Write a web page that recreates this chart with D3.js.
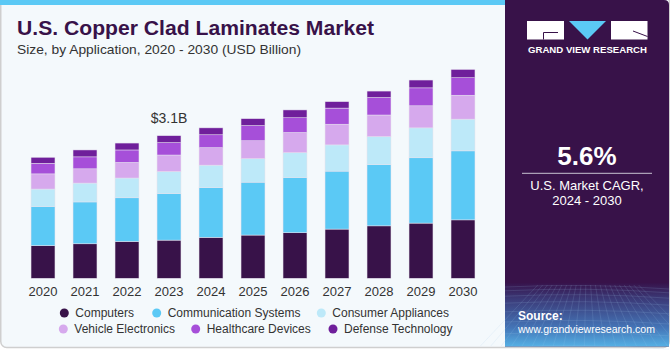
<!DOCTYPE html>
<html>
<head>
<meta charset="utf-8">
<script src="https://cdn.jsdelivr.net/npm/d3@7"></script>
<style>
  body { margin: 0; background: #ffffff; }
  svg { display: block; font-family: "Liberation Sans", Arial, sans-serif; }
</style>
</head>
<body>
<div id="okvir"></div>
<script>
// data (USD billion)
var years = ["2020", "2021", "2022", "2023", "2024", "2025", "2026", "2027", "2028", "2029", "2030"];
var segments = ["Computers", "Communication Systems", "Consumer Appliances", "Vehicle Electronics", "Healthcare Devices", "Defense Technology"];
var computers     = [0.71, 0.75, 0.80, 0.83, 0.89, 0.94, 0.99, 1.07, 1.14, 1.20, 1.27];
var communication = [0.85, 0.91, 0.95, 1.01, 1.08, 1.15, 1.20, 1.26, 1.33, 1.42, 1.50];
var consumer      = [0.38, 0.41, 0.43, 0.48, 0.49, 0.51, 0.54, 0.57, 0.61, 0.65, 0.69];
var vehicle       = [0.33, 0.31, 0.34, 0.36, 0.38, 0.39, 0.44, 0.45, 0.47, 0.48, 0.52];
var healthcare    = [0.23, 0.26, 0.27, 0.27, 0.28, 0.33, 0.32, 0.35, 0.38, 0.39, 0.38];
var defense       = [0.13, 0.15, 0.15, 0.15, 0.15, 0.15, 0.17, 0.14, 0.14, 0.17, 0.18];
var colors = ["#381249", "#5bc9f5", "#bde9f9", "#d6a9ed", "#a64fd9", "#6f1f9b"];
var labelYear = "2023";
var labelText = "$3.1B";

function crtaj() {
    var width = 670, height = 350;

    var svg = d3.select("#okvir").append("svg")
        .attr("width", width)
        .attr("height", height);

    var defs = svg.append("defs");
    var grad = defs.append("linearGradient")
        .attr("id", "grid-bg").attr("x1", 0).attr("y1", 0).attr("x2", 0).attr("y2", 1);
    grad.append("stop").attr("offset", "0%").attr("stop-color", "#37134b");
    grad.append("stop").attr("offset", "25%").attr("stop-color", "#3b3a78");
    grad.append("stop").attr("offset", "70%").attr("stop-color", "#4474b6");
    grad.append("stop").attr("offset", "100%").attr("stop-color", "#55b0e4");

    // card background and border
    svg.append("rect")
        .attr("x", 0.75).attr("y", -10)
        .attr("width", width - 1.5).attr("height", 357.5)
        .attr("rx", 6)
        .attr("fill", "#f4f9fc")
        .attr("stroke", "#cfcfcf")
        .attr("stroke-width", 1.5);

    // blue strip on top
    svg.append("rect")
        .attr("x", 0).attr("y", 0)
        .attr("width", 506).attr("height", 5)
        .attr("fill", "#5bc9f5");

    // right panel
    var panel = svg.append("g");
    panel.append("path")
        .attr("d", "M505,0 H664 Q669,0 669,5 V346.5 H505 Z")
        .attr("fill", "#381249");
    panel.append("rect")
        .attr("x", 505).attr("y", 283)
        .attr("width", 164).attr("height", 63.5)
        .attr("fill", "url(#grid-bg)");

    // faint grid in the lower panel
    var gridG = panel.append("g")
        .attr("stroke", "#9fc8ee")
        .attr("stroke-opacity", 0.25)
        .attr("stroke-width", 0.6)
        .attr("fill", "none");
    d3.range(0, 9).forEach(function (i) {
        var yy = 287 + i * i * 0.8 + i * 3;
        gridG.append("path").attr("d", "M505," + yy + " Q587," + (yy - 4) + " 669," + (yy + 2));
    });
    d3.range(0, 22).forEach(function (i) {
        var xx = 505 + i * 8;
        gridG.append("path").attr("d", "M" + (587 + (xx - 587) * 0.6) + ",285 L" + (587 + (xx - 587) * 1.3) + ",346");
    });

    // logo
    var logo = panel.append("g");
    logo.append("rect").attr("x", 527).attr("y", 21).attr("width", 37).attr("height", 18.5).attr("fill", "#ffffff");
    logo.append("path").attr("d", "M558,32.5 H543.5 V39.5").attr("stroke", "#381249").attr("stroke-width", 1).attr("fill", "none");
    logo.append("path").attr("d", "M569,21 H606 L587.5,39.5 Z").attr("fill", "#5bc9f5");
    logo.append("rect").attr("x", 611).attr("y", 21).attr("width", 36.5).attr("height", 18.5).attr("fill", "#ffffff");
    logo.append("path").attr("d", "M633,31 L647.5,36.5").attr("stroke", "#381249").attr("stroke-width", 1).attr("fill", "none");
    logo.append("text")
        .attr("x", 528).attr("y", 53.3)
        .attr("textLength", 119)
        .attr("lengthAdjust", "spacingAndGlyphs")
        .style("font-size", "9px").style("font-weight", "bold")
        .attr("fill", "#ffffff")
        .text("GRAND VIEW RESEARCH");

    // CAGR block
    panel.append("text")
        .attr("x", 587).attr("y", 165)
        .attr("text-anchor", "middle")
        .style("font-size", "26px").style("font-weight", "bold")
        .attr("fill", "#ffffff")
        .text("5.6%");
    panel.append("line")
        .attr("x1", 522).attr("x2", 652).attr("y1", 173.3).attr("y2", 173.3)
        .attr("stroke", "#c9c3d2").attr("stroke-width", 1);
    panel.append("text")
        .attr("x", 587).attr("y", 190)
        .attr("text-anchor", "middle")
        .style("font-size", "13px").attr("fill", "#ffffff")
        .text("U.S. Market CAGR,");
    panel.append("text")
        .attr("x", 587).attr("y", 204.5)
        .attr("text-anchor", "middle")
        .style("font-size", "13px").attr("fill", "#ffffff")
        .text("2024 - 2030");

    panel.append("text")
        .attr("x", 518).attr("y", 319.5)
        .style("font-size", "12px").style("font-weight", "bold").attr("fill", "#ffffff")
        .text("Source:");
    panel.append("text")
        .attr("x", 518).attr("y", 332.5)
        .attr("textLength", 137)
        .attr("lengthAdjust", "spacingAndGlyphs")
        .style("font-size", "11.5px").attr("fill", "#ffffff")
        .text("www.grandviewresearch.com");

    // title
    svg.append("text")
        .attr("x", 17).attr("y", 34.5)
        .attr("textLength", 357)
        .attr("lengthAdjust", "spacingAndGlyphs")
        .style("font-size", "20px").style("font-weight", "bold")
        .attr("fill", "#381249")
        .text("U.S. Copper Clad Laminates Market");
    svg.append("text")
        .attr("x", 17).attr("y", 53.5)
        .attr("textLength", 284)
        .attr("lengthAdjust", "spacingAndGlyphs")
        .style("font-size", "13.5px")
        .attr("fill", "#333333")
        .text("Size, by Application, 2020 - 2030 (USD Billion)");

    // build table for the stack
    var series = [computers, communication, consumer, vehicle, healthcare, defense];
    var table = years.map(function (yr, i) {
        var row = { year: yr };
        segments.forEach(function (s, k) { row[s] = series[k][i]; });
        return row;
    });
    var stacked = d3.stack().keys(segments)(table);

    var x = d3.scaleBand()
        .domain(years)
        .range([22, 484])
        .paddingInner(0.43)
        .paddingOuter(0.215);

    var y = d3.scaleLinear()
        .domain([0, 5])
        .range([278.3, 48.3]);

    var color = d3.scaleOrdinal().domain(segments).range(colors);

    // bars
    svg.append("g")
        .selectAll("g")
        .data(stacked)
        .enter()
        .append("g")
        .attr("fill", function (d) { return color(d.key); })
        .selectAll("rect")
        .data(function (d) { return d; })
        .enter()
        .append("rect")
        .attr("x", function (d) { return x(d.data.year); })
        .attr("y", function (d) { return y(d[1]); })
        .attr("width", x.bandwidth())
        .attr("height", function (d) { return y(d[0]) - y(d[1]); })
        .attr("stroke", "#e6e1ee")
        .attr("stroke-width", 0.5);

    // x axis
    var xAxis = svg.append("g")
        .attr("transform", "translate(0,278.3)")
        .call(d3.axisBottom(x).tickSize(0).tickPadding(8));
    xAxis.select(".domain").remove();
    xAxis.selectAll("text")
        .style("font-size", "13px")
        .style("font-family", "'Liberation Sans', Arial, sans-serif")
        .attr("fill", "#333333");

    // value label above 2023
    var total2023 = d3.sum(series, function (s) { return s[years.indexOf(labelYear)]; });
    svg.append("text")
        .attr("x", x(labelYear) + x.bandwidth() / 2)
        .attr("y", y(total2023) - 13)
        .attr("text-anchor", "middle")
        .style("font-size", "14px")
        .attr("fill", "#333333")
        .text(labelText);

    // legend
    var legendPos = [
        { cx: 64.3, cy: 313 }, { cx: 156.7, cy: 313 }, { cx: 321.3, cy: 313 },
        { cx: 63.3, cy: 329 }, { cx: 195.7, cy: 329 }, { cx: 333, cy: 329 }
    ];
    var legend = svg.append("g")
        .selectAll("g")
        .data(segments)
        .enter()
        .append("g")
        .attr("transform", function (d, i) { return "translate(" + legendPos[i].cx + "," + legendPos[i].cy + ")"; });
    legend.append("circle")
        .attr("r", 4.5)
        .attr("fill", function (d) { return color(d); });
    legend.append("text")
        .attr("x", 11)
        .attr("dy", "0.35em")
        .style("font-size", "12px")
        .attr("fill", "#333333")
        .text(function (d) { return d; });
}
crtaj();
</script>
</body>
</html>
